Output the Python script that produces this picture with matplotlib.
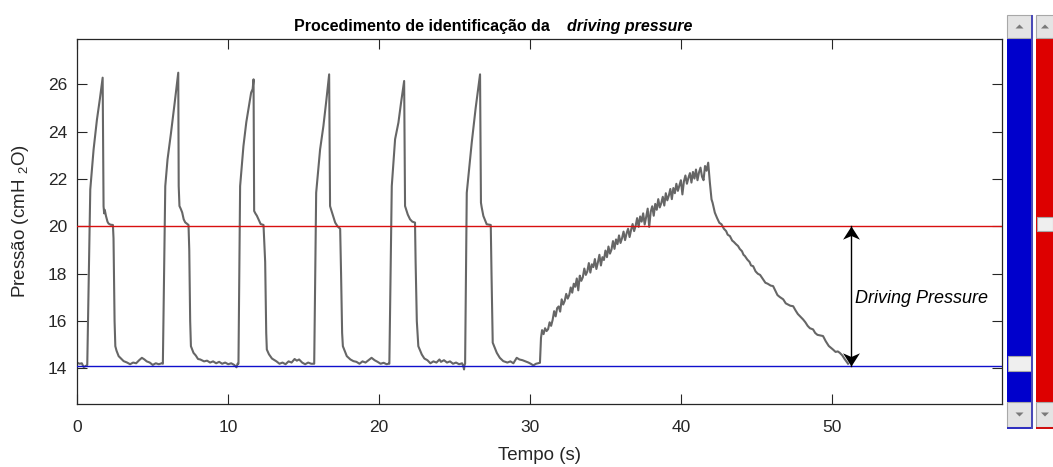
import matplotlib
matplotlib.use("Agg")
import matplotlib.pyplot as plt
import numpy as np
from matplotlib.patches import Rectangle, Polygon
from matplotlib.path import Path

plt.rcParams['font.family'] = ['Liberation Sans', 'DejaVu Sans']
plt.rcParams['mathtext.fontset'] = 'custom'
plt.rcParams['mathtext.rm'] = 'Liberation Sans'

# --- Airway pressure: six controlled breaths (s, cmH2O) ---
cycle_t = [
    0.00, 0.15, 0.30, 0.42, 0.55, 0.66, 0.86, 1.08, 1.30, 1.50, 1.68, 1.74, 1.78, 1.82, 1.90, 2.00,
    2.07, 2.20, 2.36, 2.40, 2.47, 2.52, 2.60, 2.74, 2.85, 3.07, 3.30, 3.50, 3.70, 3.90, 4.10, 4.28,
    4.45, 4.60, 4.80, 5.00, 5.20, 5.40, 5.60,
    5.67, 5.83, 5.98, 6.20, 6.45, 6.69, 6.72, 6.77, 6.85, 6.95, 7.05, 7.15, 7.37, 7.42, 7.48, 7.53,
    7.70, 7.85, 8.00, 8.15, 8.40, 8.60, 8.80, 9.00, 9.20, 9.40, 9.60, 9.80, 10.00, 10.20, 10.40,
    10.55, 10.62,
    10.68, 10.79, 11.01, 11.20, 11.41, 11.52, 11.62, 11.68, 11.72, 11.80, 11.90, 12.01, 12.15, 12.34,
    12.45, 12.52, 12.56, 12.70, 12.90, 13.20, 13.40, 13.60, 13.80, 14.00, 14.20, 14.40, 14.55, 14.70,
    14.90, 15.10, 15.30, 15.50, 15.62,
    15.70, 15.83, 16.09, 16.31, 16.50, 16.69, 16.75, 16.80, 16.90, 17.09, 17.25, 17.42, 17.48, 17.55,
    17.60, 17.86, 18.10, 18.30, 18.50, 18.70, 18.90, 19.10, 19.30, 19.50, 19.70, 19.90, 20.10, 20.30,
    20.50, 20.62,
    20.68, 20.84, 21.06, 21.28, 21.45, 21.66, 21.72, 21.80, 21.90, 22.05, 22.20, 22.38, 22.42, 22.50,
    22.60, 22.83, 23.00, 23.20, 23.40, 23.60, 23.80, 24.00, 24.10, 24.30, 24.50, 24.70, 24.90, 25.10,
    25.30, 25.50, 25.58, 25.63, 25.66,
    25.70, 25.81, 26.14, 26.40, 26.69, 26.75, 26.80, 26.91, 27.13, 27.40, 27.45, 27.53, 27.80, 28.00,
    28.23, 28.50, 28.70, 28.90, 29.12, 29.30, 29.50, 29.70, 29.90, 30.05, 30.22, 30.40, 30.66,
]
cycle_p = [
    14.24, 14.20, 14.22, 14.06, 14.10, 14.15, 21.56, 23.25, 24.50, 25.40, 26.28, 20.85, 20.55, 20.70, 20.44, 20.20,
    20.12, 20.07, 20.06, 19.50, 16.00, 14.94, 14.75, 14.52, 14.45, 14.31, 14.25, 14.18, 14.25, 14.22, 14.35, 14.45,
    14.38, 14.30, 14.25, 14.15, 14.22, 14.18, 14.22,
    14.20, 21.70, 22.83, 23.90, 25.20, 26.49, 21.70, 20.86, 20.75, 20.59, 20.30, 20.17, 20.06, 19.00, 16.00, 14.94,
    14.66, 14.55, 14.40, 14.38, 14.30, 14.33, 14.25, 14.30, 14.22, 14.28, 14.20, 14.25, 14.18, 14.22, 14.15,
    14.05, 14.20,
    14.20, 21.70, 23.39, 24.40, 25.23, 25.65, 25.80, 26.21, 20.65, 20.55, 20.45, 20.30, 20.10, 20.06,
    18.50, 15.50, 14.80, 14.60, 14.42, 14.30, 14.20, 14.25, 14.18, 14.30, 14.25, 14.40, 14.33, 14.38,
    14.25, 14.18, 14.25, 14.20, 14.20,
    14.20, 21.42, 23.25, 24.24, 25.30, 26.42, 20.86, 20.75, 20.55, 20.16, 20.00, 19.90, 18.00, 15.50,
    14.94, 14.52, 14.38, 14.31, 14.28, 14.20, 14.30, 14.25, 14.35, 14.45, 14.35, 14.28, 14.20, 14.24,
    14.18, 14.20,
    14.20, 21.70, 23.68, 24.38, 25.20, 26.14, 20.86, 20.70, 20.50, 20.30, 20.20, 20.16, 18.50, 16.00,
    14.94, 14.59, 14.42, 14.35, 14.22, 14.30, 14.25, 14.38, 14.28, 14.35, 14.25, 14.30, 14.20, 14.25,
    14.18, 14.22, 14.10, 13.96, 14.15,
    14.20, 21.42, 23.54, 25.00, 26.42, 21.00, 20.80, 20.44, 20.09, 20.06, 18.00, 15.09, 14.66, 14.45,
    14.31, 14.25, 14.30, 14.22, 14.45, 14.38, 14.35, 14.30, 14.25, 14.20, 14.13, 14.20, 14.24,
]

# --- Slow inflation (low-flow manoeuvre) ---
inflation_t = [
    30.73, 30.80, 30.90, 31.00, 31.10, 31.20, 31.30, 31.40, 31.50, 31.60, 31.70, 31.80, 31.90, 32.00,
    32.10, 32.20, 32.30, 32.40, 32.50, 32.60, 32.70, 32.80, 32.90, 33.00, 33.10, 33.20, 33.30, 33.40,
    33.50, 33.60, 33.70, 33.80, 33.90, 34.00, 34.10, 34.20, 34.30, 34.40, 34.50, 34.60, 34.70, 34.80,
    34.90, 35.00, 35.10, 35.20, 35.30, 35.40, 35.50, 35.60, 35.70, 35.80, 35.90, 36.00, 36.10, 36.20,
    36.30, 36.40, 36.50, 36.60, 36.70, 36.80, 36.90, 37.00, 37.10, 37.20, 37.30, 37.40, 37.50, 37.60,
    37.70, 37.80, 37.90, 38.00, 38.10, 38.20, 38.30, 38.40, 38.50, 38.60, 38.70, 38.80, 38.90, 39.00,
    39.10, 39.20, 39.30, 39.40, 39.50, 39.60, 39.70, 39.80, 39.90, 40.00, 40.10, 40.20, 40.30, 40.40,
    40.50, 40.60, 40.70, 40.80, 40.90, 41.00, 41.10, 41.20, 41.30, 41.40, 41.50, 41.60, 41.70, 41.81,
]
inflation_p = [
    15.30, 15.62, 15.45, 15.70, 15.58, 15.66, 15.95, 15.80, 16.05, 16.42, 16.20, 16.55, 16.62, 16.40,
    16.92, 16.70, 16.85, 17.15, 16.95, 17.10, 17.42, 17.20, 17.58, 17.45, 17.80, 17.30, 17.92, 17.70,
    17.85, 18.22, 17.95, 18.10, 18.45, 18.05, 18.40, 18.28, 18.62, 18.20, 18.48, 18.80, 18.35, 18.70,
    18.58, 18.98, 18.70, 19.15, 18.85, 19.02, 19.38, 19.05, 19.45, 19.25, 19.62, 19.30, 19.50, 19.78,
    19.42, 19.70, 19.90, 19.55, 19.85, 20.10, 19.80, 20.02, 20.35, 19.98, 20.42, 20.20, 20.55, 20.08,
    20.40, 20.75, 19.98, 20.62, 20.85, 20.45, 20.95, 20.70, 21.15, 20.80, 20.98, 21.25, 20.88, 21.40,
    21.10, 21.30, 21.58, 21.15, 21.62, 21.40, 21.80, 21.50, 21.72, 21.95, 21.35, 21.90, 22.15, 21.80,
    22.05, 22.25, 21.85, 22.30, 22.02, 22.40, 21.95, 22.28, 22.48, 22.10, 21.95, 22.55, 22.35, 22.69,
]

# --- Slow deflation back to PEEP ---
deflation_t = [
    41.92, 42.03, 42.10, 42.25, 42.40, 42.55, 42.69, 42.85, 43.00, 43.10, 43.25, 43.40, 43.50, 43.65,
    43.79, 43.90, 44.05, 44.15, 44.24, 44.40, 44.55, 44.65, 44.79, 44.95, 45.10, 45.25, 45.45, 45.60,
    45.75, 45.95, 46.11, 46.25, 46.40, 46.55, 46.78, 46.95, 47.10, 47.25, 47.44, 47.60, 47.75, 47.90,
    48.10, 48.25, 48.40, 48.55, 48.76, 48.90, 49.05, 49.20, 49.42, 49.60, 49.80, 50.08, 50.25, 50.40,
    50.53, 50.70, 50.85, 51.08,
]
deflation_p = [
    21.85, 21.14, 21.00, 20.58, 20.35, 20.15, 20.09, 19.90, 19.80, 19.65, 19.59, 19.40, 19.35, 19.25,
    19.17, 19.05, 18.95, 18.80, 18.75, 18.60, 18.50, 18.35, 18.32, 18.10, 18.00, 17.95, 17.76, 17.62,
    17.58, 17.50, 17.48, 17.30, 17.10, 17.02, 16.92, 16.75, 16.70, 16.65, 16.63, 16.45, 16.30, 16.20,
    16.07, 15.95, 15.80, 15.70, 15.65, 15.50, 15.42, 15.40, 15.37, 15.15, 14.95, 14.80, 14.70, 14.72,
    14.66, 14.55, 14.40, 14.20,
]

plateau_level = 20.03   # cmH2O
peep_level = 14.11      # cmH2O
arrow_time = 51.3       # s

x_ticks = [0, 10, 20, 30, 40, 50]
y_ticks = [14, 16, 18, 20, 22, 24, 26]

time_s = np.concatenate([cycle_t, inflation_t, deflation_t])
pressure = np.concatenate([cycle_p, inflation_p, deflation_p])

W, H = 1053, 467
fig = plt.figure(figsize=(W / 100, H / 100), dpi=100)
fig.patch.set_facecolor('white')

ax = fig.add_axes([77.3 / W, 1 - 404 / H, (1002.3 - 77.3) / W, (404 - 39.3) / H])
ax.plot(time_s, pressure, color='#666666', lw=1.5, zorder=2)
ax.axhline(plateau_level, color='#d81010', lw=1.0, zorder=3)
ax.axhline(peep_level, color='#1010cc', lw=1.0, zorder=3)

# double-headed arrow marking the driving pressure
head_up = Path([(0, 0), (0.64, -1.0), (0, -0.72), (-0.64, -1.0), (0, 0)],
               [Path.MOVETO, Path.LINETO, Path.LINETO, Path.LINETO, Path.CLOSEPOLY])
head_down = Path([(0, 0), (0.64, 1.0), (0, 0.72), (-0.64, 1.0), (0, 0)],
                 [Path.MOVETO, Path.LINETO, Path.LINETO, Path.LINETO, Path.CLOSEPOLY])
ax.plot([arrow_time, arrow_time], [peep_level, plateau_level], color='black', lw=1.0, zorder=4)
ax.plot([arrow_time], [plateau_level], marker=head_up, ms=19, color='black', mew=0, zorder=5)
ax.plot([arrow_time], [peep_level], marker=head_down, ms=19, color='black', mew=0, zorder=5)
ax.text(51.52, 16.95, 'Driving Pressure', style='italic', fontsize=13, ha='left', va='center',
        color='black', zorder=5)

ax.set_xlim(0, 61.3)
ax.set_ylim(12.5, 27.9)
ax.set_xticks(x_ticks)
ax.set_yticks(y_ticks)
ax.tick_params(direction='in', length=7, width=0.8, top=True, right=True,
               colors='#262626', labelsize=12.5)
ax.tick_params(axis='x', pad=11.5)
ax.tick_params(axis='y', pad=7.5)
for s in ax.spines.values():
    s.set_color('#262626')
    s.set_linewidth(0.9)

# axis labels and title
fig.text(539.8 / W, 1 - 456 / H, 'Tempo (s)', fontsize=13.5, color='#262626', ha='center', va='center')
fig.text(21 / W, 1 - 221.5 / H, 'Pressão (cmH $_{2}$O)', fontsize=13.5, color='#262626',
         ha='center', va='center', rotation=90)
fig.text(550 / W, 1 - 31.5 / H, 'Procedimento de identificação da', fontsize=11.5,
         fontweight='bold', color='black', ha='right', va='baseline')
fig.text(567 / W, 1 - 31.5 / H, 'driving pressure', fontsize=11.5, fontweight='bold',
         style='italic', color='black', ha='left', va='baseline')


# slider controls at the right edge
def rect(x0, y0, x1, y1, **kw):
    fig.patches.append(Rectangle((x0 / W, 1 - y1 / H), (x1 - x0) / W, (y1 - y0) / H,
                                 transform=fig.transFigure, figure=fig, **kw))


def tri(cx, cy, up):
    d = -1 if up else 1
    pts = [((cx - 4) / W, 1 - (cy - 2 * d) / H), ((cx + 4) / W, 1 - (cy - 2 * d) / H),
           (cx / W, 1 - (cy + 2 * d) / H)]
    fig.patches.append(Polygon(pts, closed=True, transform=fig.transFigure, figure=fig,
                               facecolor='#7a7a7a', edgecolor='none'))


def slider(x0, x1, color, edge, thumb_y0, thumb_y1):
    rect(x0, 38, x1, 402, facecolor=color, edgecolor='none')
    rect(x0, 15, x1, 38, facecolor='#e4e4e4', edgecolor='#a8a8a8', lw=0.8)
    rect(x0, 402, x1, 427, facecolor='#e4e4e4', edgecolor='#a8a8a8', lw=0.8)
    rect(x0 + 1, thumb_y0, x1 - 1, thumb_y1, facecolor='#efefef', edgecolor='#a8a8a8', lw=0.8)
    tri((x0 + x1) / 2, 26.5, True)
    tri((x0 + x1) / 2, 414.5, False)
    rect(x0, 427, x1, 429, facecolor=edge, edgecolor='none')


slider(1007, 1032, '#0000cc', '#3030c0', 356, 371)
rect(1031, 15, 1032.5, 429, facecolor='#4a4ab8', edgecolor='none')
slider(1036, 1054, '#dd0000', '#d01010', 217, 231)

fig.savefig('out.png', dpi=100)
